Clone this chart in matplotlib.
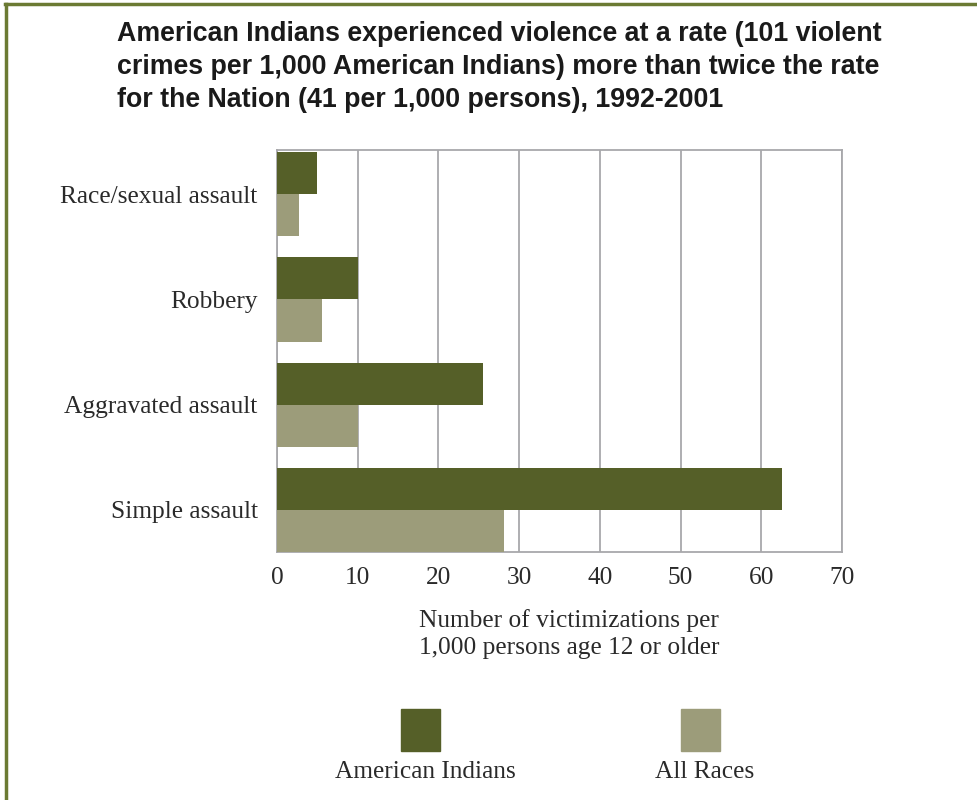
import matplotlib
matplotlib.use("Agg")
import matplotlib.pyplot as plt
import numpy as np
from matplotlib.patches import Rectangle
from matplotlib.lines import Line2D

categories = ["Race/sexual assault", "Robbery", "Aggravated assault", "Simple assault"]
american_indians = [5.0, 10.0, 25.5, 62.6]
all_races = [2.7, 5.6, 10.0, 28.1]
series_names = ["American Indians", "All Races"]
xticks = [0, 10, 20, 30, 40, 50, 60, 70]
title = ("American Indians experienced violence at a rate (101 violent\n"
         "crimes per 1,000 American Indians) more than twice the rate\n"
         "for the Nation (41 per 1,000 persons), 1992-2001")
xlabel = "Number of victimizations per\n1,000 persons age 12 or older"

dark = "#555f28"
light = "#9c9c7a"
border = "#6b7a33"
textc = "#2a2a2a"
serif = ["Liberation Serif", "DejaVu Serif"]
fs = 18.3

fig = plt.figure(figsize=(9.78, 8), dpi=100)
W, H = 978, 800
ax = fig.add_axes([277 / W, 1 - 552 / H, (842 - 277) / W, (552 - 150) / H])

y = np.arange(len(categories))
h = 0.4
ax.barh(y - h / 2, american_indians, height=h, color=dark, zorder=3)
ax.barh(y + h / 2, all_races, height=h, color=light, zorder=3)
ax.set_ylim(3.4, -0.42)
ax.set_xlim(0, 70)
ax.set_xticks(xticks)
ax.set_xticklabels([str(t) for t in xticks], family=serif, fontsize=fs, color=textc)
ax.set_yticks(y)
ax.set_yticklabels(categories, family=serif, fontsize=fs, color=textc)
ax.tick_params(length=0)
ax.tick_params(axis="y", pad=14)
ax.tick_params(axis="x", pad=11)
ax.grid(axis="x", color="#a8a8ab", linewidth=1.3, zorder=0)
for s in ax.spines.values():
    s.set_color("#a8a8ab")
    s.set_linewidth(1.3)

fig.text(117 / W, 1 - 21 / H, title, ha="left", va="top", family=["Liberation Sans", "DejaVu Sans"],
         fontweight="bold", fontsize=19.3, color="#1a1a1a", linespacing=1.36)
fig.text(569 / W, 1 - 634 / H, xlabel, ha="center", va="center", family=serif,
         fontsize=fs, color=textc, linespacing=1.27)

# legend
for x0, cx, c, name in [(401, 425, dark, series_names[0]), (681, 705, light, series_names[1])]:
    fig.patches.append(Rectangle((x0 / W, 1 - 751 / H), 39 / W, 42 / H, transform=fig.transFigure,
                                 color=c, figure=fig))
    fig.text(cx / W, 1 - 772 / H, name, ha="center", va="center", family=serif,
             fontsize=fs, color=textc)

# frame border
fig.lines.append(Line2D([6 / W, 6 / W], [0, 1 - 4 / H], transform=fig.transFigure, color=border, linewidth=2.5))
fig.lines.append(Line2D([5 / W, 1], [1 - 4 / H, 1 - 4 / H], transform=fig.transFigure, color=border, linewidth=2.5))

fig.savefig("out.png", dpi=100)
